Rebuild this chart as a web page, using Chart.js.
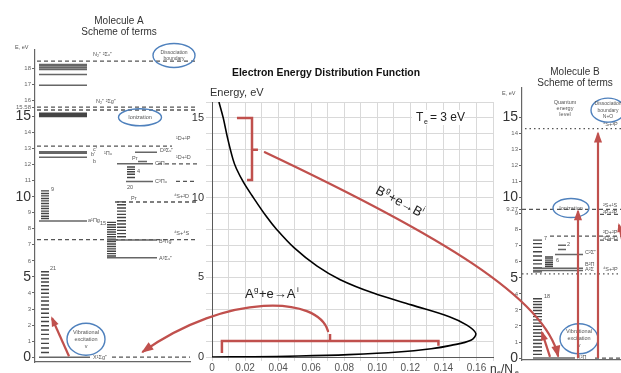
<!DOCTYPE html>
<html><head><meta charset="utf-8">
<script src="https://cdn.jsdelivr.net/npm/chart.js@4.4.1/dist/chart.umd.min.js"></script>
<style>
html,body{margin:0;padding:0;background:#fff;}
#wrap{position:relative;width:621px;height:373px;overflow:hidden;background:#fff;}
canvas{position:absolute;top:0;}
#cA{left:0;z-index:1} #cB{left:500px;z-index:1} #cE{left:0;z-index:2}
</style></head><body>
<div id="wrap">
<canvas id="cA" width="200" height="373"></canvas>
<canvas id="cB" width="140" height="373"></canvas>
<canvas id="cE" width="621" height="373"></canvas>
</div>
<script>
// ---------------- DATA ----------------
// Electron energy distribution function, Te = 3 eV (points along the curve)
const eedfEnergy  = [0, 0.02, 0.06, 0.15, 0.31, 0.52, 0.73, 1.05, 1.48, 2.0, 2.53, 3.27, 4.01, 4.85, 5.70, 6.86, 8.02, 8.86, 10.13, 10.97, 11.81, 12.4, 13.7, 15.0, 16.0];
const eedfDensity = [0, 0.025, 0.0526, 0.0826, 0.1126, 0.1326, 0.1446, 0.1566, 0.1596, 0.1542, 0.1436, 0.1206, 0.0976, 0.0776, 0.0636, 0.0496, 0.039, 0.0326, 0.0242, 0.019, 0.0148, 0.0127, 0.0095, 0.0068, 0.0042];
const xTicks = [0, 0.02, 0.04, 0.06, 0.08, 0.10, 0.12, 0.14, 0.16];
const yTicks = [0, 5, 10, 15];
// energy ranges marked by brackets
const bracketB_E = [11.1, 13.0, 15.0];      // B^g+e->B^i
const bracketB_n = [0.0151, 0.0212, 0.0242, 0.0278];
const bracketA_E = [0.25, 0.7, 1.0, 1.45];  // A^g+e->A^i
const bracketA_n = [0.006, 0.0714, 0.137];

// Molecule A (N2-like) terms, eV
const aUpperE      = [18.24, 18.14, 18.04, 17.93, 17.62, 16.94];
const aIonStatesE  = [15.2, 15.1, 15.0];
const aRydbergE    = [12.8, 12.7, 12.45];
const aSingletE    = [8.48];
const aGroundE     = [0];
const aOtherE      = [12.77, 12.2, 12.05, 10.95, 7.3, 6.2];
const aLimitsE     = [18.45, 15.58, 15.4, 13.15, 12.05, 10.95, 9.67, 7.33, 0];
const aVibX        = [0.29, 0.57, 0.86, 1.14, 1.42, 1.69, 1.96, 2.22, 2.48, 2.74, 3.0, 3.25, 3.5, 3.74, 3.98, 4.22, 4.45, 4.68, 4.9, 5.12, 5.32];
const aVib9        = [8.64, 8.78, 8.95, 9.1, 9.26, 9.41, 9.58, 9.74, 9.89, 10.05, 10.2, 10.36];
const aVib15       = [6.3, 6.45, 6.6, 6.75, 6.9, 7.05, 7.2, 7.35, 7.5, 7.65, 7.8, 7.95, 8.1, 8.25, 8.4];
const aVibPr       = [7.5, 7.7, 7.9, 8.1, 8.3, 8.5, 8.7, 8.9, 9.1, 9.3, 9.5, 9.68];
const aVibC        = [11.2, 11.4, 11.55, 11.7, 11.85];
const aAxisTicks   = [0,1,2,3,4,5,6,7,8,9,10,11,12,13,14,15,15.58,16,17,18];

// Molecule B (NO-like) terms, eV
const bLevelsE     = [7.03, 6.76, 6.45, 5.6, 5.45, 0];
const bDashedE     = [9.27, 8.95, 7.6, 7.35, 0];
const bDottedE     = [14.3, 5.25];
const bVib7        = [5.37, 5.62, 5.87, 6.1, 6.36, 6.63, 6.9, 7.13, 7.35];
const bVib6        = [5.7, 5.82, 5.94, 6.06, 6.18, 6.3];
const bVib18       = [0.23, 0.46, 0.69, 0.91, 1.13, 1.35, 1.56, 1.77, 1.98, 2.18, 2.38, 2.58, 2.77, 2.96, 3.15, 3.34, 3.52, 3.7];
const bAxisTicks   = [0,1,2,3,4,5,6,7,8,9,9.27,10,11,12,13,14,15];
const bIonArrowE   = 9.15;
const bDissArrowE  = 14.0;

// ---------------- LAYOUT / STYLE ----------------
const RED = '#c0504d', BLUE = '#4f81bd', FONT = '"Liberation Sans", Arial, sans-serif';
// horizontal extents (panel pixels) of each term column
const aUpperX = [39, 87], aVibXcol = [41, 49], aVib15col = [107, 116], aVibPrcol = [117, 126], aVibCcol = [127, 135];
const aOtherX = [[135,157],[138,147],[117,153],[126,153],[107,157],[107,157]];
const aLimitsX = [[37,195],[37,195],[37,195],[37,172],[158,198],[176,197],[115,197],[37,195],[112,190]];
const bLevelsX = [[558,566],[558,566],[555,583],[533,583],[533,583],[533,575]];
const bDashedX = [[522,640],[600,640],[550,640],[600,621],[595,640]];
const bDottedX = [[525,640],[522,640]];
const bVib7col = [533, 542], bVib6col = [545, 553], bVib18col = [533, 542];

function segs(energies, ranges){
  const out = [];
  energies.forEach((e,i)=>{ const r = Array.isArray(ranges[0]) ? ranges[i] : ranges;
    out.push({x:r[0],y:e},{x:r[1],y:e},{x:null,y:null}); });
  return out;
}
function lineDs(data, color, width, dash){
  return {data, showLine:true, borderColor:color, borderWidth:width, borderDash:dash||[], pointRadius:0, spanGaps:false, clip:false, tension:0};
}
function txt(ctx, s, x, y, size, o){
  o = o||{};
  ctx.font = (o.bold?'bold ':'') + size + 'px ' + (o.family||FONT);
  ctx.fillStyle = o.color || '#444';
  ctx.textAlign = o.align || 'left';
  ctx.textBaseline = 'middle';
  if (o.maxW) ctx.fillText(s, x, y, o.maxW); else ctx.fillText(s, x, y);
}
function ellipse(ctx, x, y, rx, ry, lines, size){
  ctx.save(); ctx.strokeStyle = BLUE; ctx.lineWidth = 1.4;
  ctx.beginPath(); ctx.ellipse(x, y, rx, ry, 0, 0, Math.PI*2); ctx.stroke(); ctx.restore();
  const h = size + 1.5, y0 = y - (lines.length-1)*h/2;
  lines.forEach((l,i)=>txt(ctx, l, x, y0 + i*h, size, {align:'center', color:'#555'}));
}
function arrow(ctx, pts, head){
  ctx.beginPath(); ctx.moveTo(pts[0][0], pts[0][1]);
  if (pts.length === 4) ctx.bezierCurveTo(pts[1][0],pts[1][1],pts[2][0],pts[2][1],pts[3][0],pts[3][1]);
  else ctx.lineTo(pts[1][0], pts[1][1]);
  ctx.stroke();
  if (!head) return;
  const [x2,y2] = pts[pts.length-1], [x1,y1] = pts[pts.length-2];
  const a = Math.atan2(y2-y1, x2-x1), w = head*0.45;
  ctx.beginPath(); ctx.moveTo(x2 + 2*Math.cos(a), y2 + 2*Math.sin(a));
  ctx.lineTo(x2 - head*Math.cos(a) + w*Math.sin(a), y2 - head*Math.sin(a) - w*Math.cos(a));
  ctx.lineTo(x2 - head*Math.cos(a) - w*Math.sin(a), y2 - head*Math.sin(a) + w*Math.cos(a));
  ctx.closePath(); ctx.fill();
}
const common = {responsive:false, animation:false, events:[],
  plugins:{legend:{display:false}, tooltip:{enabled:false}, title:{display:false}}};

function sideScales(xmin, xmax, ymin, ymax, yw, xh, ticks){
  return {
    x:{type:'linear', min:xmin, max:xmax, ticks:{display:false}, grid:{display:false},
       border:{color:'#666', width:1.2}, afterFit:s=>{s.height = xh;}},
    y:{type:'linear', min:ymin, max:ymax,
       afterBuildTicks:s=>{ s.ticks = ticks.map(v=>({value:v})); },
       ticks:{autoSkip:false, padding:1,
         callback:v=>String(v),
         font:c=>({family:FONT, size:(c.tick && c.tick.value%5===0) ? 14 : 6}),
         color:c=>(c.tick && c.tick.value%5===0) ? '#333' : '#666'},
       grid:{drawOnChartArea:false, tickLength:3, color:'#666'},
       border:{color:'#666', width:1.2}, afterFit:s=>{s.width = yw;}}
  };
}

// ---------------- MOLECULE A ----------------
const labelsA = [
  ['N₂⁺ ²Σᵤ⁺', 93, 18.85], ['N₂⁺ ²Σg⁺', 96, 15.95], ['¹D+¹P', 176, 13.6],
  ["c'", 93, 12.95], ["b'", 91, 12.6], ['b', 93, 12.2], ['¹Πᵤ', 104, 12.7],
  ['D³Σᵤ⁺', 160, 12.85], ['Pr', 132, 12.4], ['C³Π', 155, 12.05], ['¹D+¹D', 176, 12.45],
  ['4', 137, 11.6], ['20', 127, 10.6], ['C³Πᵤ', 155, 10.95], ['9', 51, 10.45],
  ['Pr', 131, 9.9], ['⁴S+²D', 174, 10.0], ['a¹Πg', 88, 8.5], ['15', 100, 8.35],
  ['⁴S+⁴S', 174, 7.7], ['B³Πg', 159, 7.2], ['A³Σᵤ⁺', 159, 6.15], ['21', 50, 5.5], ['X¹Σg⁺', 93, 0.0]
];
const chartA = new Chart(document.getElementById('cA'), {
  type:'scatter',
  data:{datasets:[
    lineDs(segs(aUpperE, aUpperX), '#666', 1.5),
    lineDs(segs(aIonStatesE, aUpperX), '#444', 1.6),
    lineDs(segs(aRydbergE, aUpperX), '#666', 1.5),
    lineDs(segs(aSingletE, aUpperX), '#666', 1.5),
    lineDs(segs(aGroundE, [39, 90]), '#666', 1.5),
    lineDs(segs(aOtherE, aOtherX), '#666', 1.5),
    lineDs(segs(aLimitsE, aLimitsX), '#555', 1.3, [4,3]),
    lineDs(segs(aVibX, aVibXcol), '#444', 1.4),
    lineDs(segs(aVib9, aVibXcol), '#444', 1.4),
    lineDs(segs(aVib15, aVib15col), '#444', 1.4),
    lineDs(segs(aVibPr, aVibPrcol), '#444', 1.4),
    lineDs(segs(aVibC, aVibCcol), '#444', 1.4)
  ]},
  options:Object.assign({}, common, {
    layout:{padding:{left:0, right:10, top:50, bottom:0}},
    scales:sideScales(35, 190, -0.3, 19.14, 35, 11, aAxisTicks)
  }),
  plugins:[{id:'annA', afterDraw(c){
    const ctx = c.ctx, X = v=>c.scales.x.getPixelForValue(v), Y = e=>c.scales.y.getPixelForValue(e);
    txt(ctx, 'Molecule A', 119, 21, 10, {align:'center', color:'#333'});
    txt(ctx, 'Scheme of terms', 119, 32, 10, {align:'center', color:'#333'});
    txt(ctx, 'E, eV', 15, 47, 5.5, {color:'#555'});
    labelsA.forEach(([s,x,e])=>txt(ctx, s, X(x), Y(e), 5.5, {color:'#555'}));
    ellipse(ctx, X(174), Y(18.8), 21, 12, ['Dissociation','boundary'], 5);
    ellipse(ctx, X(140), Y(14.95), 21.5, 8.5, ['Ionization'], 5.5);
    ellipse(ctx, X(86), Y(1.12), 19, 16, ['Vibrational','excitation','v'], 5.5);
    ctx.save(); ctx.strokeStyle = RED; ctx.fillStyle = RED; ctx.lineWidth = 2.2;
    arrow(ctx, [[X(69), Y(0.06)], [X(52), Y(2.43)]], 8);
    ctx.restore();
  }}]
});

// ---------------- MOLECULE B ----------------
const labelsB = [
  ['⁴S+³P', 603, 14.55], ['²S+¹S', 603, 9.5], ['²P+²P', 603, 9.1], ['²D+²P', 603, 7.8], ['²D+²D', 603, 7.45],
  ['⁴S+²P', 603, 5.5], ['7', 544, 7.45], ['2', 567, 7.1], ['C²Σ⁺', 585, 6.6], ['6', 556, 6.1],
  ['B²Π', 585, 5.85], ['A²Σ', 585, 5.5], ['18', 544, 3.85], ['X²Π', 577, 0.02]
];
const chartB = new Chart(document.getElementById('cB'), {
  type:'scatter',
  data:{datasets:[
    lineDs(segs(bLevelsE, bLevelsX), '#666', 1.5),
    lineDs(segs(bDashedE, bDashedX), '#555', 1.3, [4,3]),
    lineDs(segs(bDottedE, bDottedX), '#555', 1.3, [1.5,3]),
    lineDs(segs(bVib7, bVib7col), '#444', 1.4),
    lineDs(segs(bVib6, bVib6col), '#444', 1.4),
    lineDs(segs(bVib18, bVib18col), '#444', 1.4)
  ]},
  options:Object.assign({}, common, {
    layout:{padding:{left:0, right:0, top:88, bottom:0}},
    scales:sideScales(522, 640, -0.12, 16.83, 22, 13, bAxisTicks)
  }),
  plugins:[{id:'annB', afterDraw(c){
    const ctx = c.ctx, X = v=>c.scales.x.getPixelForValue(v), Y = e=>c.scales.y.getPixelForValue(e);
    txt(ctx, 'Molecule B', 75, 72, 10, {align:'center', color:'#333'});
    txt(ctx, 'Scheme of terms', 75, 83, 10, {align:'center', color:'#333'});
    txt(ctx, 'E, eV', 2, 93, 5.5, {color:'#555'});
    ['Quantum','energy','level'].forEach((s,i)=>txt(ctx, s, X(565), 102 + i*6, 5.5, {align:'center', color:'#555'}));
    labelsB.forEach(([s,x,e])=>txt(ctx, s, X(x), Y(e), 5.5, {color:'#555'}));
    ellipse(ctx, X(608), Y(15.45), 17, 12, ['Dissociation','boundary','N+O'], 5);
    ellipse(ctx, X(571), Y(9.35), 18, 9.5, ['Ionization'], 5.5);
    ellipse(ctx, X(579), Y(1.2), 19, 15, ['Vibrational','excitation','v'], 5.5);
    ctx.save(); ctx.strokeStyle = RED; ctx.fillStyle = RED; ctx.lineWidth = 2.2;
    arrow(ctx, [[X(578), Y(0)], [X(578), Y(bIonArrowE)]], 9);
    arrow(ctx, [[X(598), Y(0)], [X(598), Y(bDissArrowE)]], 9);
    arrow(ctx, [[X(550), Y(0.08)], [X(542), Y(1.6)]], 8);
    arrow(ctx, [[X(622), Y(7.4)], [X(619), Y(8.3)]], 7);
    ctx.restore();
  }}]
});

// ---------------- EEDF (centre) ----------------
const eedfPts = eedfEnergy.map((e,i)=>({x:eedfDensity[i], y:e}));
const brB = [{x:bracketB_n[0],y:bracketB_E[2]},{x:bracketB_n[2],y:bracketB_E[2]},{x:bracketB_n[2],y:bracketB_E[0]},{x:bracketB_n[1],y:bracketB_E[0]},
             {x:null,y:null},{x:bracketB_n[2],y:bracketB_E[1]},{x:bracketB_n[3],y:bracketB_E[1]}];
const brA = [{x:bracketA_n[0],y:bracketA_E[0]},{x:bracketA_n[0],y:bracketA_E[2]},{x:bracketA_n[2],y:bracketA_E[2]},{x:bracketA_n[2],y:bracketA_E[1]},
             {x:null,y:null},{x:bracketA_n[1],y:bracketA_E[2]},{x:bracketA_n[1],y:bracketA_E[3]}];

const chartE = new Chart(document.getElementById('cE'), {
  type:'scatter',
  data:{datasets:[
    {data:eedfPts, showLine:true, borderColor:'#000', borderWidth:1.6, pointRadius:0, tension:0.35},
    Object.assign(lineDs(brB, RED, 2.5), {clip:false}),
    Object.assign(lineDs(brA, RED, 2.5), {clip:false})
  ]},
  options:Object.assign({}, common, {
    layout:{padding:{left:150, right:128, top:102, bottom:0}},
    scales:{
      x:{type:'linear', min:0, max:0.17,
         ticks:{stepSize:0.01, autoSkip:false, maxRotation:0, padding:1, color:'#555', font:{family:FONT, size:10},
           callback:v=>{ const k = xTicks.findIndex(t=>Math.abs(t-v)<1e-6); return k<0 ? '' : (xTicks[k]===0 ? '0' : xTicks[k].toFixed(2)); }},
         grid:{color:'#d9d9d9', tickLength:4}, border:{color:'#595959'},
         afterFit:s=>{s.height = 16;}},
      y:{type:'linear', min:0, max:16,
         ticks:{stepSize:1, autoSkip:false, padding:2, color:'#333', font:{family:FONT, size:11},
           callback:v=>yTicks.includes(v) ? String(v) : ''},
         grid:{color:'#d9d9d9', tickLength:6}, border:{color:'#595959'},
         afterFit:s=>{s.width = 62;}}
    }
  }),
  plugins:[{id:'annE', afterDraw(c){
    const ctx = c.ctx, X = v=>c.scales.x.getPixelForValue(v), Y = e=>c.scales.y.getPixelForValue(e);
    txt(ctx, 'Electron Energy Distribution Function', 326, 73, 11, {bold:true, align:'center', color:'#111', maxW:188});
    txt(ctx, 'Energy, eV', 210, 93, 11, {color:'#333'});
    // Te label with white box
    ctx.fillStyle = '#fff'; ctx.fillRect(412, 110, 52, 15);
    txt(ctx, 'T', 416, 118, 12, {color:'#222'});
    txt(ctx, 'e', 424, 122, 7, {color:'#222'});
    txt(ctx, '= 3 eV', 430, 118, 12, {color:'#222'});
    // reaction labels
    ctx.save(); ctx.translate(403, 204); ctx.rotate(28*Math.PI/180);
    txt(ctx, 'B', -30, 0, 13, {color:'#222'}); txt(ctx, 'g', -21, -5, 8, {color:'#222'});
    txt(ctx, '+e→B', -16, 0, 13, {color:'#222'}); txt(ctx, 'i', 20, -5, 8, {color:'#222'});
    ctx.restore();
    txt(ctx, 'A', 245, 294, 13, {color:'#222'}); txt(ctx, 'g', 254, 290, 8, {color:'#222'});
    txt(ctx, '+e→A', 259, 294, 13, {color:'#222'}); txt(ctx, 'i', 297, 290, 8, {color:'#222'});
    // x axis title
    txt(ctx, 'n', 490, 370, 12, {color:'#333'}); txt(ctx, 'e', 497, 373, 7, {color:'#333'});
    txt(ctx, '/N', 501, 370, 12, {color:'#333'}); txt(ctx, 'e', 515, 373, 7, {color:'#333'});
    // arrows linking energy ranges to the molecular schemes
    const LA = chartA, RB = chartB;
    ctx.save(); ctx.strokeStyle = RED; ctx.fillStyle = RED; ctx.lineWidth = 2.3; ctx.lineCap = 'round';
    const b0 = [X(0.032), Y(12.85)];
    const b3 = [RB.scales.x.getPixelForValue(558) + 500, RB.scales.y.getPixelForValue(0.15)];
    arrow(ctx, [b0, [440, 235], [545, 298], b3], 10);
    const a0 = [X(bracketA_n[1]) - 2, Y(1.62)];
    const a3 = [LA.scales.x.getPixelForValue(143), LA.scales.y.getPixelForValue(0.35)];
    arrow(ctx, [a0, [318, 296], [228, 292], a3], 10);
    ctx.restore();
  }}]
});
</script>
</body></html>
